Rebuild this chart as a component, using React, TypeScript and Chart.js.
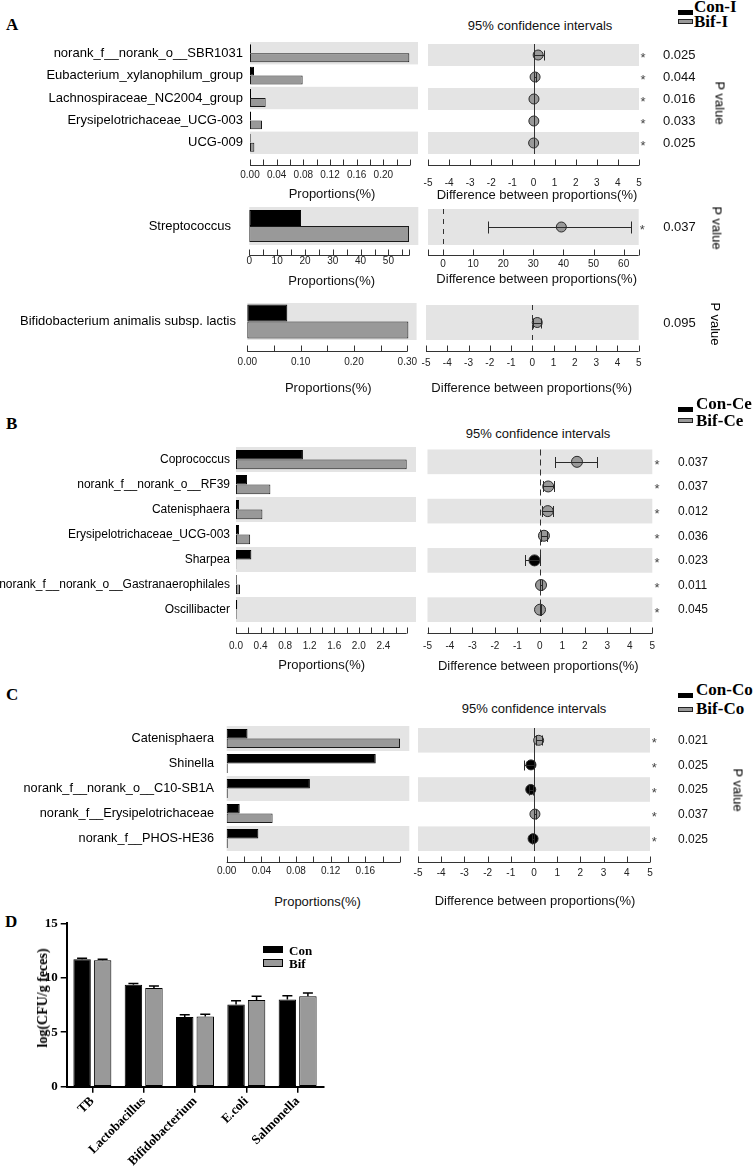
import React, { useEffect, useRef } from 'react';
import { Chart, registerables } from 'chart.js';
Chart.register(...registerables);

const SANS = 'Arial, "Liberation Sans", Helvetica, sans-serif';
const SERIF = '"Times New Roman", "Liberation Serif", Times, serif';
const GREY = '#999999';
const ROW_BG = '#e4e4e4';
const TICK_FONT = 10;
Chart.defaults.font.family = SANS;

// ---------------- DATA ----------------
// Panel A – I
const A1_TAXA = ['norank_f__norank_o__SBR1031', 'Eubacterium_xylanophilum_group', 'Lachnospiraceae_NC2004_group', 'Erysipelotrichaceae_UCG-003', 'UCG-009'];
const A1_CON = [0.0015, 0.006, 0.0015, 0.0015, 0.001];
const A1_BIF = [0.239, 0.079, 0.0235, 0.018, 0.0065];
const A1_DIFF = [0.22, 0.075, 0.022, 0.017, 0.006];
const A1_LO = [0.0, 0.01, 0.003, 0.003, 0.001];
const A1_HI = [0.48, 0.14, 0.04, 0.03, 0.012];
const A1_P = ['0.025', '0.044', '0.016', '0.033', '0.025'];
const A1_SIG = ['*', '*', '*', '*', '*'];
const A1_PROP_TICKS = [0, 0.02, 0.04, 0.06, 0.08, 0.1, 0.12, 0.14, 0.16, 0.18, 0.2, 0.22, 0.24];
const A1_PROP_LABELS = ['0.00', '', '0.04', '', '0.08', '', '0.12', '', '0.16', '', '0.20', '', ''];

const A2_TAXA = ['Streptococcus'];
const A2_CON = [18.6];
const A2_BIF = [57.4];
const A2_DIFF = [39.3];
const A2_LO = [14.9];
const A2_HI = [62.5];
const A2_P = ['0.037'];
const A2_SIG = ['*'];
const A2_PROP_TICKS = [0, 5, 10, 15, 20, 25, 30, 35, 40, 45, 50, 55, 57.5];
const A2_PROP_LABELS = ['0', '', '10', '', '20', '', '30', '', '40', '', '50', '', ''];
const A2_DIFF_TICKS = [-5, 0, 10, 20, 30, 40, 50, 60, 65];
const A2_DIFF_LABELS = ['', '0', '10', '20', '30', '40', '50', '60', ''];

const A3_TAXA = ['Bifidobacterium animalis subsp. lactis'];
const A3_CON = [0.075];
const A3_BIF = [0.302];
const A3_DIFF = [0.23];
const A3_LO = [0.03];
const A3_HI = [0.42];
const A3_P = ['0.095'];
const A3_SIG = [''];
const A3_PROP_TICKS = [0, 0.05, 0.1, 0.15, 0.2, 0.25, 0.3];
const A3_PROP_LABELS = ['0.00', '', '0.10', '', '0.20', '', '0.30'];

const DIFF5_TICKS = [-5, -4, -3, -2, -1, 0, 1, 2, 3, 4, 5];
const DIFF5_LABELS = ['-5', '-4', '-3', '-2', '-1', '0', '1', '2', '3', '4', '5'];

// Panel B – Ce
const B_TAXA = ['Coprococcus', 'norank_f__norank_o__RF39', 'Catenisphaera', 'Erysipelotrichaceae_UCG-003', 'Sharpea', 'norank_f__norank_o__Gastranaerophilales', 'Oscillibacter'];
const B_CON = [1.09, 0.18, 0.05, 0.05, 0.25, 0.012, 0.02];
const B_BIF = [2.78, 0.56, 0.43, 0.23, 0.005, 0.065, 0.01];
const B_DIFF = [1.65, 0.37, 0.35, 0.18, -0.24, 0.05, 0.005];
const B_LO = [0.66, 0.12, 0.1, 0.05, -0.66, 0.01, -0.01];
const B_HI = [2.53, 0.63, 0.6, 0.3, 0.0, 0.09, 0.03];
const B_P = ['0.037', '0.037', '0.012', '0.036', '0.023', '0.011', '0.045'];
const B_SIG = ['*', '*', '*', '*', '*', '*', '*'];
const B_PROP_TICKS = [0, 0.2, 0.4, 0.6, 0.8, 1.0, 1.2, 1.4, 1.6, 1.8, 2.0, 2.2, 2.4, 2.6, 2.78];
const B_PROP_LABELS = ['0.0', '', '0.4', '', '0.8', '', '1.2', '', '1.6', '', '2.0', '', '2.4', '', ''];

// Panel C – Co
const C_TAXA = ['Catenisphaera', 'Shinella', 'norank_f__norank_o__C10-SB1A', 'norank_f__Erysipelotrichaceae', 'norank_f__PHOS-HE36'];
const C_CON = [0.024, 0.172, 0.096, 0.015, 0.0365];
const C_BIF = [0.2, 0.0012, 0.0012, 0.053, 0.0012];
const C_DIFF = [0.2, -0.13, -0.14, 0.04, -0.04];
const C_LO = [0.07, -0.43, -0.22, 0.01, -0.07];
const C_HI = [0.36, -0.02, -0.06, 0.07, -0.01];
const C_P = ['0.021', '0.025', '0.025', '0.037', '0.025'];
const C_SIG = ['*', '*', '*', '*', '*'];
const C_PROP_TICKS = [0, 0.02, 0.04, 0.06, 0.08, 0.1, 0.12, 0.14, 0.16, 0.18, 0.2];
const C_PROP_LABELS = ['0.00', '', '0.04', '', '0.08', '', '0.12', '', '0.16', '', ''];

// Panel D
const D_CATS = ['TB', 'Lactobacillus', 'Bifidobacterium', 'E.coli', 'Salmonella'];
const D_CON = [11.7, 9.35, 6.4, 7.55, 8.0];
const D_BIF = [11.6, 9.05, 6.45, 7.95, 8.3];
const D_CON_ERR = [0.1, 0.12, 0.2, 0.35, 0.35];
const D_BIF_ERR = [0.1, 0.2, 0.2, 0.35, 0.3];
const D_Y_TICKS = [0, 5, 10, 15];

// ---------------- helpers ----------------
type Area = { x0: number; x1: number; y0: number; y1: number };

function geom(a: Area, Lmin: number, Tmin: number, Rmin: number, Bmin: number) {
  const left = Math.max(0, Math.floor(a.x0 - Lmin));
  const top = Math.floor(a.y0 - Tmin);
  const width = Math.ceil(a.x1 + Rmin) - left;
  const height = Math.ceil(a.y1 + Bmin) - top;
  return { left, top, width, height, L: a.x0 - left, T: a.y0 - top, R: width - (a.x1 - left), B: height - (a.y1 - top) };
}

function rowBgPlugin(n: number, ext: number) {
  return {
    id: 'rowbg',
    beforeDatasetsDraw(chart: any) {
      const { ctx, chartArea: a } = chart;
      const h = (a.bottom - a.top) / n;
      ctx.save();
      ctx.fillStyle = ROW_BG;
      for (let i = 0; i < n; i += 2) ctx.fillRect(a.left, a.top + i * h, a.right - a.left + ext, h);
      ctx.restore();
    },
  };
}

function axisPlugin(gap: number) {
  return {
    id: 'axisline',
    afterDraw(chart: any) {
      const { ctx, chartArea: a } = chart;
      const x = chart.scales.x;
      const y = Math.round(a.bottom + gap) + 0.5;
      ctx.save();
      ctx.strokeStyle = '#333';
      ctx.lineWidth = 1;
      ctx.beginPath();
      ctx.moveTo(x.getPixelForValue(x.min), y);
      ctx.lineTo(x.getPixelForValue(x.max), y);
      for (const t of x.ticks) {
        const px = Math.round(x.getPixelForValue(t.value)) + 0.5;
        ctx.moveTo(px, y);
        ctx.lineTo(px, y - 6);
      }
      ctx.stroke();
      ctx.restore();
    },
  };
}

function zeroLinePlugin(dash: number[] | null) {
  return {
    id: 'zeroline',
    beforeDatasetsDraw(chart: any) {
      const { ctx, chartArea: a } = chart;
      const x = Math.round(chart.scales.x.getPixelForValue(0)) + 0.5;
      ctx.save();
      ctx.strokeStyle = '#333';
      ctx.lineWidth = 1;
      ctx.setLineDash(dash || []);
      ctx.beginPath();
      ctx.moveTo(x, a.top);
      ctx.lineTo(x, a.bottom);
      ctx.stroke();
      ctx.restore();
    },
  };
}

function errorBarPlugin(lo: number[], hi: number[], capH: number) {
  return {
    id: 'ci',
    afterDatasetsDraw(chart: any) {
      const { ctx } = chart;
      const xs = chart.scales.x;
      const ys = chart.scales.y;
      ctx.save();
      ctx.strokeStyle = '#2a2a2a';
      ctx.lineWidth = 1;
      lo.forEach((l, i) => {
        const y = Math.round(ys.getPixelForValue(i)) + 0.5;
        const xl = Math.round(xs.getPixelForValue(l)) + 0.5;
        const xh = Math.round(xs.getPixelForValue(hi[i])) + 0.5;
        ctx.beginPath();
        ctx.moveTo(xl, y);
        ctx.lineTo(xh, y);
        ctx.moveTo(xl, y - capH / 2);
        ctx.lineTo(xl, y + capH / 2);
        ctx.moveTo(xh, y - capH / 2);
        ctx.lineTo(xh, y + capH / 2);
        ctx.stroke();
      });
      ctx.restore();
    },
  };
}

function pValuePlugin(sig: string[], p: string[], starDx: number, pDx: number, pFont: number) {
  return {
    id: 'pvals',
    afterDraw(chart: any) {
      const { ctx, chartArea: a } = chart;
      const ys = chart.scales.y;
      ctx.save();
      p.forEach((txt, i) => {
        const y = ys.getPixelForValue(i);
        if (sig[i]) {
          ctx.font = `13px ${SANS}`;
          ctx.fillStyle = '#444';
          ctx.textAlign = 'center';
          ctx.textBaseline = 'alphabetic';
          ctx.fillText(sig[i], a.right + starDx, y + 7);
        }
        ctx.font = `${pFont}px ${SANS}`;
        ctx.fillStyle = '#111';
        ctx.textAlign = 'left';
        ctx.textBaseline = 'middle';
        ctx.fillText(txt, a.right + pDx, y + 0.5);
      });
      ctx.restore();
    },
  };
}

function linearX(o: any) {
  return {
    type: 'linear',
    min: o.min,
    max: o.max,
    grid: { display: false, drawTicks: false },
    border: { display: false },
    afterBuildTicks: (s: any) => {
      s.ticks = o.ticks.map((v: number) => ({ value: v }));
    },
    ticks: {
      autoSkip: false,
      maxRotation: 0,
      minRotation: 0,
      padding: o.tickCenterY - o.area.y1 - TICK_FONT * 0.6,
      color: '#222',
      font: { family: SANS, size: TICK_FONT },
      callback: (_v: any, i: number) => o.tickLabels[i] ?? '',
    },
    afterFit: (s: any) => {
      s.height = o.g.B;
      s.paddingLeft = 0;
      s.paddingRight = 0;
    },
  };
}

function barConfig(o: any) {
  const n = o.taxa.length;
  const ds = (data: number[], bg: string, bc: string) => ({
    data,
    backgroundColor: bg,
    borderColor: bc,
    borderWidth: 1,
    borderSkipped: false,
    categoryPercentage: o.catPct,
    barPercentage: 1,
    clip: false,
  });
  return {
    type: 'bar',
    data: { labels: o.taxa, datasets: [ds(o.con, '#000', '#000'), ds(o.bif, GREY, '#1a1a1a')] },
    options: {
      indexAxis: 'y',
      responsive: false,
      animation: false,
      events: [],
      layout: { padding: { left: 0, top: o.g.T, right: o.g.R, bottom: 0 } },
      plugins: { legend: { display: false }, tooltip: { enabled: false } },
      scales: {
        x: linearX(o),
        y: {
          type: 'category',
          grid: { display: false, drawTicks: false },
          border: { display: false },
          ticks: { autoSkip: false, padding: o.labelPad, color: '#000', font: { family: SANS, size: o.catFont } },
          afterFit: (s: any) => {
            s.width = o.g.L;
            s.paddingTop = 0;
            s.paddingBottom = 0;
          },
        },
      },
    },
    plugins: [rowBgPlugin(n, o.ext), axisPlugin(o.gap)],
  };
}

function ciConfig(o: any) {
  const n = o.diff.length;
  return {
    type: 'scatter',
    data: {
      datasets: [
        {
          data: o.diff.map((d: number, i: number) => ({ x: d, y: i })),
          pointRadius: o.radius,
          pointBackgroundColor: o.diff.map((d: number) => (d >= 0 ? GREY : '#000')),
          pointBorderColor: '#2a2a2a',
          pointBorderWidth: 1,
          clip: false,
        },
      ],
    },
    options: {
      responsive: false,
      animation: false,
      events: [],
      layout: { padding: { left: o.g.L, top: o.g.T, right: o.g.R, bottom: 0 } },
      plugins: { legend: { display: false }, tooltip: { enabled: false } },
      scales: {
        x: linearX(o),
        y: { type: 'linear', min: -0.5, max: n - 0.5, reverse: true, display: false },
      },
    },
    plugins: [
      rowBgPlugin(n, 0),
      zeroLinePlugin(o.dash),
      errorBarPlugin(o.lo, o.hi, o.capH),
      pValuePlugin(o.sig, o.p, o.starDx, o.pDx, o.pFont),
      axisPlugin(o.gap),
    ],
  };
}

function ChartCanvas({ g, make }: { g: any; make: () => any }) {
  const ref = useRef<HTMLCanvasElement>(null);
  useEffect(() => {
    const c = new Chart(ref.current as HTMLCanvasElement, make());
    return () => c.destroy();
  }, []);
  return (
    <canvas
      ref={ref}
      width={g.width}
      height={g.height}
      style={{ position: 'absolute', left: g.left, top: g.top, width: g.width, height: g.height, display: 'block' }}
    />
  );
}

function BarPanel(props: any) {
  const g = geom(props.area, props.area.x0, 4, props.ext + 6, 40);
  return <ChartCanvas g={g} make={() => barConfig({ ...props, g })} />;
}

function CIPanel(props: any) {
  const g = geom(props.area, 4, 4, 752 - props.area.x1, 40);
  return <ChartCanvas g={g} make={() => ciConfig({ ...props, g })} />;
}

const dErrorPlugin = {
  id: 'derr',
  afterDatasetsDraw(chart: any) {
    const { ctx } = chart;
    const ys = chart.scales.y;
    ctx.save();
    ctx.strokeStyle = '#000';
    ctx.lineWidth = 1.5;
    [D_CON_ERR, D_BIF_ERR].forEach((errs, di) => {
      const meta = chart.getDatasetMeta(di);
      const vals = chart.data.datasets[di].data;
      meta.data.forEach((bar: any, i: number) => {
        const top = ys.getPixelForValue(vals[i]);
        const e = ys.getPixelForValue(vals[i] + errs[i]);
        ctx.beginPath();
        ctx.moveTo(bar.x, top);
        ctx.lineTo(bar.x, e);
        ctx.moveTo(bar.x - 5, e);
        ctx.lineTo(bar.x + 5, e);
        ctx.stroke();
      });
    });
    ctx.restore();
  },
};

function DPanel() {
  const area = { x0: 66.7, x1: 323.3, y0: 923.3, y1: 1086.7 };
  const g = geom(area, area.x0, 10, 40, 79.3);
  const make = () => ({
    type: 'bar',
    data: {
      labels: D_CATS,
      datasets: [
        { label: 'Con', data: D_CON, backgroundColor: '#000', borderColor: '#000', borderWidth: 1, borderSkipped: false, categoryPercentage: 0.8, barPercentage: 0.85 },
        { label: 'Bif', data: D_BIF, backgroundColor: GREY, borderColor: '#000', borderWidth: 1, borderSkipped: false, categoryPercentage: 0.8, barPercentage: 0.85 },
      ],
    },
    options: {
      responsive: false,
      animation: false,
      events: [],
      layout: { padding: { left: 0, top: g.T, right: g.R, bottom: 0 } },
      plugins: { legend: { display: false }, tooltip: { enabled: false } },
      scales: {
        x: {
          type: 'category',
          offset: true,
          grid: { display: true, drawOnChartArea: false, drawTicks: true, tickLength: 6, color: '#000', lineWidth: 1.5, offset: false },
          border: { display: true, color: '#000', width: 2 },
          ticks: { autoSkip: false, maxRotation: 45, minRotation: 45, padding: 1, color: '#000', font: { family: SERIF, size: 13, weight: 'bold' } },
          afterFit: (s: any) => {
            s.height = g.B;
            s.paddingLeft = 0;
            s.paddingRight = 0;
          },
        },
        y: {
          type: 'linear',
          min: 0,
          max: 15,
          afterBuildTicks: (s: any) => {
            s.ticks = D_Y_TICKS.map((v) => ({ value: v }));
          },
          grid: { display: true, drawOnChartArea: false, drawTicks: true, tickLength: 6, color: '#000', lineWidth: 1.5 },
          border: { display: true, color: '#000', width: 2 },
          ticks: { padding: 3, color: '#000', font: { family: SERIF, size: 13, weight: 'bold' } },
          afterFit: (s: any) => {
            s.width = g.L;
            s.paddingTop = 0;
            s.paddingBottom = 0;
          },
        },
      },
    },
    plugins: [dErrorPlugin],
  });
  return <ChartCanvas g={g} make={make} />;
}

function Txt({ x, y, children, size = 13, serif = false, bold = false, align = 'center', rot = 0, color = '#111' }: any) {
  const tx = align === 'center' ? '-50%' : align === 'right' ? '-100%' : '0';
  return (
    <div
      style={{
        position: 'absolute',
        left: x,
        top: y,
        transform: `translate(${tx}, -50%)${rot ? ` rotate(${rot}deg)` : ''}`,
        fontFamily: serif ? SERIF : SANS,
        fontSize: size,
        fontWeight: bold ? 700 : 400,
        lineHeight: 1,
        whiteSpace: 'nowrap',
        color,
      }}
    >
      {children}
    </div>
  );
}

function Box({ x, y, w, h, fill, border }: any) {
  return (
    <div
      style={{
        position: 'absolute',
        left: x,
        top: y,
        width: w,
        height: h,
        background: fill,
        border: border ? `1px solid ${border}` : 'none',
        boxSizing: 'border-box',
      }}
    />
  );
}

function Legend({ y1, y2, h1, h2, con, bif, tx }: any) {
  return (
    <>
      <Box x={678} y={y1 - h1 / 2} w={15} h={h1} fill="#000" />
      <Box x={678} y={y2 - h2 / 2} w={15} h={h2} fill={GREY} border="#222" />
      <Txt x={tx} y={y1 - 6} serif bold size={17} align="left" color="#000">{con}</Txt>
      <Txt x={tx} y={y2 - 1} serif bold size={17} align="left" color="#000">{bif}</Txt>
    </>
  );
}

export default function App() {
  return (
    <div style={{ position: 'absolute', left: 0, top: 0, width: 753, height: 1166, background: '#fff', overflow: 'hidden' }}>
      {/* ---------- Panel A ---------- */}
      <Txt x={6} y={23.7} serif bold size={17} align="left" color="#000">A</Txt>
      <Legend y1={12} y2={21.7} h1={5} h2={5} con="Con-I" bif="Bif-I" tx={694} />
      <Txt x={540} y={25.3}>95% confidence intervals</Txt>

      <BarPanel area={{ x0: 250, x1: 410, y0: 42, y1: 154 }} taxa={A1_TAXA} con={A1_CON} bif={A1_BIF}
        min={0} max={0.24} ticks={A1_PROP_TICKS} tickLabels={A1_PROP_LABELS}
        labelPad={7} catFont={13} catPct={0.8} ext={8} gap={11} tickCenterY={175} />
      <CIPanel area={{ x0: 426, x1: 639, y0: 42, y1: 154 }} diff={A1_DIFF} lo={A1_LO} hi={A1_HI} p={A1_P} sig={A1_SIG}
        min={-5} max={5} ticks={DIFF5_TICKS} tickLabels={DIFF5_LABELS}
        gap={11} tickCenterY={183.7} dash={null} radius={5} capH={10} starDx={4} pDx={24} pFont={13} />
      <Txt x={332} y={192.5}>Proportions(%)</Txt>
      <Txt x={537} y={194}>Difference between proportions(%)</Txt>
      <Txt x={720} y={102.5} rot={90} color="#000">P value</Txt>

      <BarPanel area={{ x0: 249.3, x1: 409.3, y0: 207, y1: 245 }} taxa={A2_TAXA} con={A2_CON} bif={A2_BIF}
        min={0} max={57.5} ticks={A2_PROP_TICKS} tickLabels={A2_PROP_LABELS}
        labelPad={18.3} catFont={13} catPct={0.84} ext={9} gap={9.5} tickCenterY={261} />
      <CIPanel area={{ x0: 426, x1: 638.7, y0: 207, y1: 245 }} diff={A2_DIFF} lo={A2_LO} hi={A2_HI} p={A2_P} sig={A2_SIG}
        min={-5} max={65} ticks={A2_DIFF_TICKS} tickLabels={A2_DIFF_LABELS}
        gap={10} tickCenterY={264} dash={[5, 5]} radius={5} capH={12} starDx={3.5} pDx={24.5} pFont={13} />
      <Txt x={331.7} y={280}>Proportions(%)</Txt>
      <Txt x={536.7} y={277.5}>Difference between proportions(%)</Txt>
      <Txt x={717} y={227.5} rot={90} color="#000">P value</Txt>

      <BarPanel area={{ x0: 247.3, x1: 407.3, y0: 303, y1: 340 }} taxa={A3_TAXA} con={A3_CON} bif={A3_BIF}
        min={0} max={0.3} ticks={A3_PROP_TICKS} tickLabels={A3_PROP_LABELS}
        labelPad={11.3} catFont={13} catPct={0.92} ext={9.3} gap={10.7} tickCenterY={362.5} />
      <CIPanel area={{ x0: 424, x1: 638.7, y0: 303, y1: 340 }} diff={A3_DIFF} lo={A3_LO} hi={A3_HI} p={A3_P} sig={A3_SIG}
        min={-5} max={5} ticks={DIFF5_TICKS} tickLabels={DIFF5_LABELS}
        gap={10.5} tickCenterY={363} dash={[5, 5]} radius={5} capH={10} starDx={4} pDx={24.5} pFont={13} />
      <Txt x={328.3} y={386.5}>Proportions(%)</Txt>
      <Txt x={531.7} y={386.5}>Difference between proportions(%)</Txt>
      <Txt x={715} y={324} rot={90} color="#000">P value</Txt>

      {/* ---------- Panel B ---------- */}
      <Txt x={6} y={422.8} serif bold size={17} align="left" color="#000">B</Txt>
      <Legend y1={409.3} y2={420.5} h1={4.5} h2={5} con="Con-Ce" bif="Bif-Ce" tx={696} />
      <Txt x={538} y={432.5}>95% confidence intervals</Txt>
      <BarPanel area={{ x0: 236, x1: 406.7, y0: 447, y1: 622 }} taxa={B_TAXA} con={B_CON} bif={B_BIF}
        min={0} max={2.78} ticks={B_PROP_TICKS} tickLabels={B_PROP_LABELS}
        labelPad={6} catFont={12} catPct={0.77} ext={9.3} gap={10.7} tickCenterY={646} />
      <CIPanel area={{ x0: 425, x1: 652.3, y0: 447, y1: 622 }} diff={B_DIFF} lo={B_LO} hi={B_HI} p={B_P} sig={B_SIG}
        min={-5} max={5} ticks={DIFF5_TICKS} tickLabels={DIFF5_LABELS}
        gap={10.7} tickCenterY={646} dash={[6, 4]} radius={5.5} capH={11} starDx={4.7} pDx={25.7} pFont={12} />
      <Txt x={321.7} y={664}>Proportions(%)</Txt>
      <Txt x={538.3} y={664.5}>Difference between proportions(%)</Txt>

      {/* ---------- Panel C ---------- */}
      <Txt x={6} y={694} serif bold size={17} align="left" color="#000">C</Txt>
      <Legend y1={695.3} y2={709.2} h1={4.5} h2={5} con="Con-Co" bif="Bif-Co" tx={696} />
      <Txt x={534} y={707.5}>95% confidence intervals</Txt>
      <BarPanel area={{ x0: 226.7, x1: 400, y0: 726, y1: 851 }} taxa={C_TAXA} con={C_CON} bif={C_BIF}
        min={0} max={0.2} ticks={C_PROP_TICKS} tickLabels={C_PROP_LABELS}
        labelPad={12.7} catFont={12.7} catPct={0.76} ext={9.3} gap={10.7} tickCenterY={871.7} />
      <CIPanel area={{ x0: 416.7, x1: 650, y0: 726, y1: 851 }} diff={C_DIFF} lo={C_LO} hi={C_HI} p={C_P} sig={C_SIG}
        min={-5} max={5} ticks={DIFF5_TICKS} tickLabels={DIFF5_LABELS}
        gap={10.7} tickCenterY={873} dash={null} radius={5} capH={10} starDx={4.3} pDx={28} pFont={12} />
      <Txt x={317.5} y={901}>Proportions(%)</Txt>
      <Txt x={535} y={900}>Difference between proportions(%)</Txt>
      <Txt x={738} y={790} rot={90} color="#000">P value</Txt>

      {/* ---------- Panel D ---------- */}
      <Txt x={5} y={921} serif bold size={17} align="left" color="#000">D</Txt>
      <DPanel />
      <Box x={263} y={946} w={20} h={7} fill="#000" />
      <Box x={263} y={959} w={20} h={8} fill={GREY} border="#000" />
      <Txt x={289} y={949.5} serif bold size={13} align="left" color="#000">Con</Txt>
      <Txt x={289} y={963} serif bold size={13} align="left" color="#000">Bif</Txt>
      <Txt x={43} y={998} serif bold size={14} rot={-90} color="#000">log(CFU/g feces)</Txt>
    </div>
  );
}
